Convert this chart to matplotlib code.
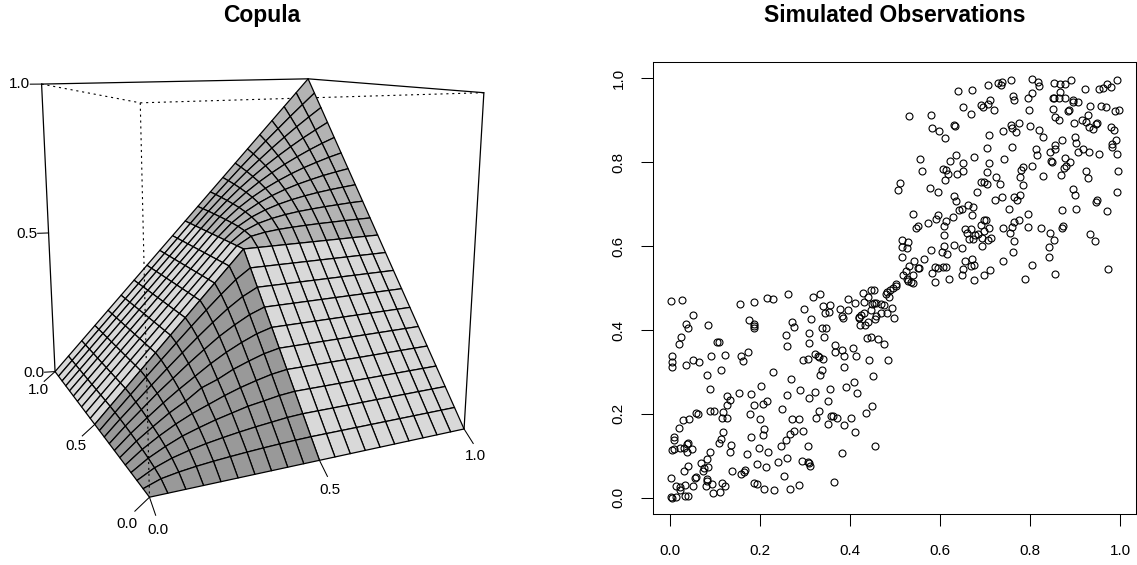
import numpy as np
import matplotlib
matplotlib.use("Agg")
import matplotlib.pyplot as plt
from matplotlib.collections import PolyCollection

plt.rcParams['font.family'] = ['Liberation Sans', 'DejaVu Sans']

# grid of the copula surface
grid = [0.0, 0.05, 0.1, 0.15, 0.2, 0.25, 0.3, 0.35, 0.4, 0.45, 0.5,
        0.55, 0.6, 0.65, 0.7, 0.75, 0.8, 0.85, 0.9, 0.95, 1.0]

# inner values of the lower left block, scaled to the block
lower_block = [
    [.035, .052, .064, .073, .080, .086, .091, .095, .098],
    [.052, .088, .113, .133, .149, .163, .175, .185, .195],
    [.064, .113, .155, .186, .214, .237, .260, .275, .291],
    [.073, .133, .186, .231, .268, .305, .337, .363, .386],
    [.080, .149, .214, .268, .333, .368, .414, .449, .480],
    [.086, .163, .237, .305, .368, .431, .486, .533, .573],
    [.091, .175, .260, .337, .414, .486, .555, .613, .664],
    [.095, .185, .275, .363, .449, .533, .613, .688, .752],
    [.098, .195, .291, .386, .480, .573, .664, .752, .835],
]
# inner values of the upper right block, scaled to the block
upper_block = [
    [.053, .071, .081, .087, .091, .094, .096, .098, .099],
    [.071, .111, .136, .154, .167, .176, .184, .190, .196],
    [.081, .136, .176, .207, .231, .250, .266, .279, .290],
    [.087, .154, .207, .250, .286, .316, .341, .364, .383],
    [.091, .167, .231, .286, .333, .375, .412, .444, .474],
    [.094, .176, .250, .316, .375, .429, .477, .522, .563],
    [.096, .184, .266, .341, .412, .477, .538, .596, .649],
    [.098, .190, .279, .364, .444, .522, .596, .667, .735],
    [.099, .196, .290, .383, .474, .563, .649, .735, .818],
]

lower_x = [.001, .026, .155, .185, .214, .229, .262, .318, .333, .395, .411, .430, .448, .453, .458, .429, .440, .340,
           .354, .298, .343, .353, .377, .396, .381, .384, .447, .457, .430, .423, .419, .420, .422, .432, .440, .456,
           .313, .336, .346, .342, .271, .274, .258, .308, .308, .259, .050, .035, .039, .084, .175, .185, .187, .187,
           .024, .020, .107, .104, .365, .366, .382, .406, .386, .413, .437, .447, .461, .442, .004, .004, .004, .050,
           .063, .035, .090, .122, .157, .173, .162, .113, .081, .229, .295, .305, .322, .328, .331, .339, .336, .332,
           .387, .450, .268, .409, .390, .355, .322, .289, .202, .088, .152, .179, .259, .125, .133, .416, .308, .351,
           .126, .187, .205, .214, .248, .448, .435, .056, .062, .088, .097, .117, .115, .125, .029, .041, .176, .199,
           .331, .324, .270, .286, .358, .362, .371, .401, .351, .387, .020, .208, .275, .265, .295, .411, .116, .007,
           .009, .179, .207, .113, .107, .135, .256, .245, .305, .455, .040, .036, .021, .030, .048, .007, .003, .038,
           .087, .198, .133, .170, .218, .382, .082, .069, .040, .084, .075, .073, .030, .137, .166, .164, .157, .192,
           .213, .239, .260, .293, .305, .308, .311, .253, .056, .055, .001, .081, .081, .092, .079, .032, .022, .013,
           .050, .021, .115, .121, .094, .110, .187, .192, .209, .231, .265, .286, .364, .001, .004, .013, .033, .040,
           .476, .484, .497, .493, .481, .469, .476, .468, .447, .453]
lower_y = [.470, .472, .463, .467, .477, .473, .485, .479, .485, .474, .464, .467, .463, .465, .464, .487, .479, .458,
           .459, .449, .440, .443, .450, .448, .433, .429, .448, .434, .440, .436, .432, .428, .412, .412, .420, .425,
           .427, .405, .405, .383, .420, .407, .389, .393, .370, .361, .436, .414, .404, .412, .424, .414, .409, .404,
           .383, .366, .372, .372, .365, .347, .351, .358, .338, .337, .381, .384, .378, .328, .339, .324, .312, .329,
           .323, .317, .338, .340, .339, .347, .326, .304, .292, .300, .328, .331, .343, .339, .335, .331, .304, .292,
           .312, .289, .282, .277, .265, .259, .253, .256, .267, .258, .250, .248, .245, .242, .234, .250, .237, .230,
           .220, .221, .224, .231, .212, .218, .202, .203, .200, .207, .207, .205, .190, .191, .185, .187, .199, .188,
           .206, .190, .187, .187, .194, .195, .189, .189, .176, .174, .166, .164, .160, .152, .158, .157, .157, .145,
           .137, .145, .149, .140, .130, .126, .138, .124, .123, .124, .130, .128, .119, .118, .117, .115, .114, .109,
           .109, .118, .110, .104, .109, .107, .093, .082, .075, .074, .070, .063, .064, .064, .067, .061, .057, .080,
           .074, .086, .095, .087, .084, .082, .076, .052, .049, .048, .046, .045, .040, .032, .027, .031, .026, .027,
           .028, .018, .036, .027, .012, .013, .036, .033, .020, .018, .020, .031, .037, .002, .000, .002, .004, .004,
           .367, .329, .429, .453, .440, .441, .459, .462, .496, .496]

upper_x = [.757, .804, .817, .820, .852, .867, .877, .891, .992, .970, .962, .954, .980, .922, .866, .728, .738, .735,
           .707, .670, .639, .761, .765, .805, .795, .710, .691, .707, .694, .650, .720, .668, .531, .579, .850, .852,
           .863, .877, .894, .895, .906, .934, .957, .969, .989, .998, .797, .850, .883, .886, .854, .863, .897, .929,
           .915, .923, .949, .946, .931, .939, .980, .986, .631, .632, .581, .597, .610, .739, .757, .759, .768, .776,
           .800, .820, .829, .708, .871, .900, .902, .990, .982, .981, .854, .855, .845, .918, .906, .931, .954, .994,
           .760, .703, .813, .815, .636, .674, .555, .622, .742, .708, .651, .846, .849, .877, .889, .880, .875, .803,
           .783, .780, .778, .606, .613, .618, .559, .651, .638, .705, .610, .725, .691, .697, .705, .733, .828, .869,
           .923, .929, .995, .784, .510, .505, .578, .594, .682, .895, .900, .992, .630, .636, .722, .737, .763, .771,
           .778, .949, .946, .662, .673, .649, .642, .752, .871, .902, .970, .540, .795, .594, .591, .628, .670, .613,
           .573, .608, .697, .702, .691, .708, .765, .775, .760, .794, .740, .824, .872, .871, .550, .545, .654, .669,
           .659, .697, .683, .678, .665, .672, .693, .713, .707, .609, .754, .843, .852, .933, .945, .764, .515, .529,
           .515, .527, .608, .631, .648, .841, .693, .579, .604, .615, .762, .516, .563, .542, .655, .670, .841, .740,
           .675, .669, .804, .588, .594, .605, .612, .651, .552, .550, .531, .524, .517, .582, .648, .710, .698, .854,
           .973, .540, .525, .529, .534, .540, .619, .588, .674, .789, .501, .501, .496, .488, .482, .479, .485]
upper_y = [.997, .999, .991, .982, .990, .986, .987, .996, .997, .987, .977, .974, .980, .975, .967, .990, .991, .984,
           .984, .972, .969, .958, .948, .965, .954, .949, .937, .938, .931, .931, .924, .915, .911, .912, .952, .952,
           .954, .953, .948, .944, .943, .935, .935, .931, .923, .925, .924, .926, .922, .924, .908, .901, .894, .912,
           .900, .897, .894, .890, .883, .880, .885, .876, .888, .886, .881, .874, .858, .875, .889, .881, .873, .893,
           .886, .877, .860, .865, .854, .860, .845, .854, .843, .836, .841, .832, .825, .831, .824, .824, .819, .820,
           .836, .834, .831, .817, .818, .812, .807, .803, .807, .799, .797, .803, .801, .809, .801, .792, .786, .792,
           .788, .781, .765, .784, .782, .773, .779, .780, .771, .776, .757, .765, .753, .752, .749, .749, .768, .769,
           .778, .762, .779, .745, .751, .733, .739, .730, .729, .737, .721, .728, .720, .707, .711, .718, .718, .711,
           .722, .709, .706, .699, .693, .689, .685, .689, .686, .688, .684, .676, .676, .674, .665, .670, .673, .660,
           .656, .648, .661, .661, .651, .644, .658, .662, .646, .646, .642, .642, .648, .642, .649, .643, .641, .640,
           .632, .637, .629, .626, .617, .618, .619, .620, .614, .626, .631, .632, .615, .629, .612, .613, .614, .610,
           .597, .596, .599, .602, .596, .598, .600, .590, .585, .582, .585, .574, .569, .564, .565, .569, .575, .564,
           .556, .552, .556, .549, .548, .549, .550, .545, .548, .548, .552, .541, .532, .536, .531, .542, .532, .534,
           .545, .531, .521, .517, .515, .513, .522, .514, .518, .521, .509, .505, .501, .495, .490, .485, .479]

ticks = [0.0, 0.2, 0.4, 0.6, 0.8, 1.0]
persp_ticks = [0.0, 0.5, 1.0]

# perspective view matrix of the left panel
VIEW = np.array([[396.09546, -73.61059, -22.50024, 149.47637],
                 [7.10291, 14.79047, -404.09497, 497.20014],
                 [0.17563, 0.37783, -0.09462, 1.0]])


def project(u, v, w):
    h = VIEW @ np.array([u, v, w, 1.0])
    return h[0] / h[2], h[1] / h[2]


W, H = 1137, 565
fig = plt.figure(figsize=(W / 100, H / 100), dpi=100)

# left panel
ax = fig.add_axes([0, 0, 568 / W, 1])
ax.set_xlim(0, 568)
ax.set_ylim(H, 0)
ax.axis('off')

g = np.array(grid)
z = np.minimum.outer(g, g)
z[1:10, 1:10] = 0.5 * np.array(lower_block)
z[11:20, 11:20] = 0.5 + 0.5 * np.array(upper_block)

faces = []
colors = []
# painter order, far corner first
for i in range(19, -1, -1):
    for j in range(19, -1, -1):
        faces.append([project(g[i], g[j], z[i, j]), project(g[i + 1], g[j], z[i + 1, j]),
                      project(g[i + 1], g[j + 1], z[i + 1, j + 1]), project(g[i], g[j + 1], z[i, j + 1])])
        if i < 10 and j < 10:
            colors.append('#999999')
        elif i >= 10 and j >= 10:
            colors.append('#b3b3b3')
        else:
            colors.append('#d9d9d9')

dots = (0, (1.9, 3.4))
for a, b in [((0, 1, 1), (0, 0, 1)), ((0, 0, 1), (1, 0, 1))]:
    pa, pb = project(*a), project(*b)
    ax.plot([pa[0], pb[0]], [pa[1], pb[1]], color='black', lw=0.8, ls=dots, zorder=1)

ax.add_collection(PolyCollection(faces, facecolors=colors, edgecolors='black', linewidths=0.9, zorder=2))

pa, pb = project(0, 0, 1), project(0, 0, 0)
ax.plot([pa[0], pb[0]], [pa[1], pb[1]], color='black', lw=0.8, ls=dots, zorder=3)

for a, b in [((0, 1, 0), (0, 1, 1)), ((0, 1, 1), (1, 1, 1)), ((1, 1, 1), (1, 0, 1)), ((1, 0, 1), (1, 0, 0))]:
    pa, pb = project(*a), project(*b)
    ax.plot([pa[0], pb[0]], [pa[1], pb[1]], color='black', lw=0.9, zorder=4, solid_capstyle='round')


def axis_tick(start, step, text_step, label):
    p0 = project(*start)
    p1 = project(start[0] + step[0], start[1] + step[1], start[2] + step[2])
    p2 = project(start[0] + text_step[0], start[1] + text_step[1], start[2] + text_step[2])
    ax.plot([p0[0], p1[0]], [p0[1], p1[1]], color='black', lw=0.75, zorder=4)
    ax.text(p2[0], p2[1], label, ha='center', va='center', fontsize=11)


for t in persp_ticks:
    axis_tick((t, 0, 0), (0, -.045, -.028), (0, -.06, -.061), f'{t:.1f}')
    axis_tick((0, t, 0), (-.04, 0, -.03), (-.061, 0, -.06), f'{t:.1f}')
    axis_tick((0, 1, t), (-.035, .0095, 0), (-.07, .019, 0), f'{t:.1f}')

fig.text(262 / W, 1 - 22 / H, 'Copula', ha='center', va='baseline', fontsize=16.5, fontweight='bold')

# right panel
ax2 = fig.add_axes([652.7 / W, 1 - 514.3 / H, 483 / W, 452.6 / H])
ax2.plot(lower_x + upper_x, lower_y + upper_y, 'o', mfc='none', mec='black', ms=5.0, mew=0.8)
ax2.set_xlim(-.0393, 1.0345)
ax2.set_ylim(-.0396, 1.0396)
ax2.set_xticks(ticks)
ax2.set_yticks(ticks)
ax2.set_xticklabels([f'{t:.1f}' for t in ticks])
ax2.set_yticklabels([f'{t:.1f}' for t in ticks], rotation=90, va='center')
ax2.tick_params(length=8.6, width=0.75, labelsize=11)
ax2.tick_params(axis='x', pad=13)
ax2.tick_params(axis='y', pad=11)
for s in ax2.spines.values():
    s.set_linewidth(0.75)
fig.text(895 / W, 1 - 22 / H, 'Simulated Observations', ha='center', va='baseline', fontsize=16.5, fontweight='bold')
fig.savefig('out.png', dpi=100)
